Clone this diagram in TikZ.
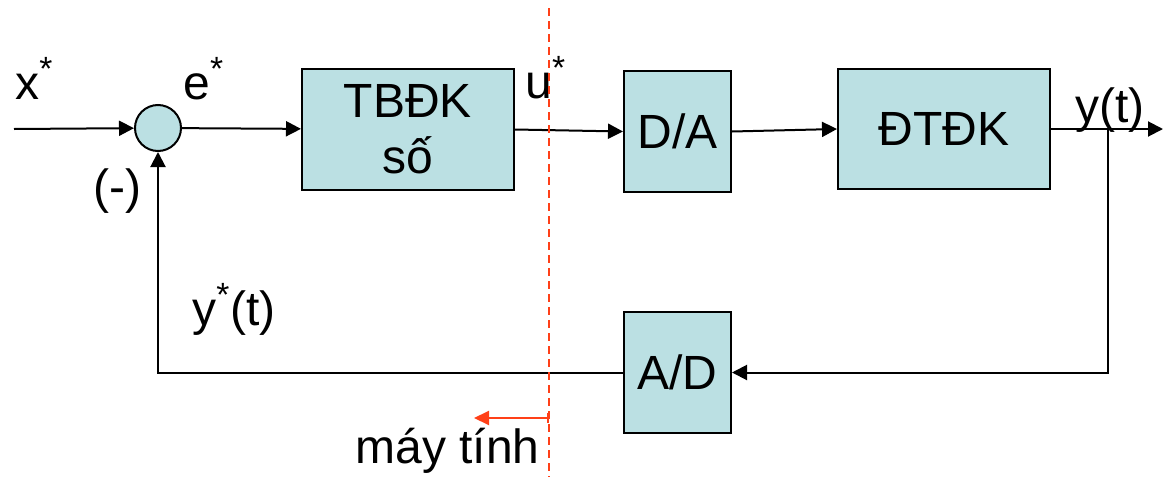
\documentclass[tikz,border=0pt]{standalone}
\usepackage{fontspec}
\setmainfont{Liberation Sans}
\usetikzlibrary{arrows.meta}
\definecolor{blockfill}{RGB}{187,224,227}
\definecolor{cutred}{RGB}{255,64,24}

\begin{document}
\begin{tikzpicture}[x=0.5pt, y=-0.5pt, font=\fontsize{24}{28}\selectfont,
    block/.style={draw, line width=1pt, fill=blockfill, minimum width=106pt, minimum height=60.5pt, inner sep=0pt, align=center},
    sumnode/.style={draw, circle, line width=1pt, fill=blockfill, minimum size=23pt, inner sep=0pt},
    sig/.style={line width=1pt, -{Triangle[length=7.5pt, width=7.5pt]}},
    lbl/.style={anchor=base west, inner sep=0pt}]
    \useasboundingbox (0,0) rectangle (1163,477);

    % Blocks
    \node[sumnode] (sum) at (158,128) {};
    \node[block] (tbdk) at (408,129.5) {TBĐK\\số};
    \node[block, minimum width=53.5pt] (da) at (677.5,131.5) {D/A};
    \node[block, minimum height=60pt] (dtdk) at (944,129) {ĐTĐK};
    \node[block, minimum width=53.5pt] (ad) at (677.5,372.5) {A/D};

    % Free ends
    \coordinate (xin) at (14,129);
    \coordinate (yout) at (1163,129);
    \coordinate (ybranch) at (1108,129);

    % Forward path
    \draw[sig] (xin) -- (sum);
    \draw[sig] (sum) -- (tbdk);
    \draw[sig] (tbdk.east) -- (da.west);
    \draw[sig] (da.east) -- (dtdk.west);
    \draw[sig] (dtdk.east) -- (yout);

    % Feedback path
    \draw[sig] (ybranch) |- (ad.east);
    \draw[sig] (ad.west) -| (sum.south);

    % Signal labels
    \node[lbl] (xlbl) at (15,99) {x\textsuperscript{*}};
    \node[lbl] (elbl) at (183,99) {e\textsuperscript{*}};
    \node[lbl] (ulbl) at (525,98) {u\textsuperscript{*}};
    \node[lbl] (ylbl) at (1075,122) {y(t)};
    \node[lbl] (minus) at (93,203) {(-)};
    \node[lbl] (yslbl) at (192,325) {y\textsuperscript{*}(t)};

    % Computer boundary
    \coordinate (cutTop) at (549,8);
    \coordinate (cutBot) at (549,477);
    \coordinate (pcStart) at (549,418);
    \coordinate (pcEnd) at (474,418);
    \draw[cutred, line width=1pt, dash pattern=on 4pt off 2.5pt] (cutTop) -- (cutBot);
    \draw[cutred, line width=1pt, {Bar[width=5pt]}-{Triangle[length=7.5pt, width=7pt]}] (pcStart) -- (pcEnd);
    \node[lbl] (pclbl) at (355,463) {máy tính};
\end{tikzpicture}
\end{document}
